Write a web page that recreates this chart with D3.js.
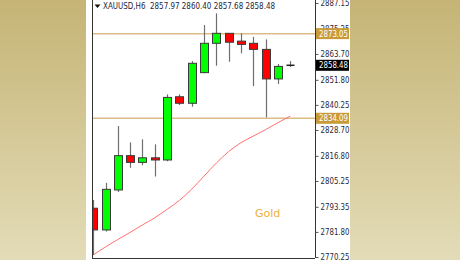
<!DOCTYPE html>
<html>
<head>
<meta charset="utf-8">
<script src="https://cdn.jsdelivr.net/npm/d3@7"></script>
<style>
  html, body { margin: 0; padding: 0; }
  body { width: 460px; height: 260px; overflow: hidden; }
</style>
</head>
<body>
<div id="chart"></div>
<script>
// XAUUSD H6 candles (open, high, low, close)
const opens  = [2792.7, 2782.7, 2801.1, 2816.9, 2813.8, 2815.9, 2814.9, 2844.0, 2841.0, 2855.1, 2868.6, 2873.2, 2869.6, 2868.6, 2865.8, 2852.2, 2857.97];
const highs  = [2796.5, 2804.4, 2830.5, 2823.0, 2824.4, 2822.1, 2845.1, 2845.1, 2860.4, 2877.0, 2882.4, 2873.3, 2873.2, 2871.6, 2870.4, 2859.1, 2860.40];
const lows   = [2771.2, 2782.0, 2800.2, 2811.3, 2812.5, 2807.3, 2814.3, 2840.2, 2839.4, 2854.8, 2858.3, 2860.1, 2864.0, 2848.9, 2834.5, 2849.9, 2857.68];
const closes = [2782.7, 2801.4, 2816.9, 2813.8, 2815.9, 2814.9, 2843.7, 2841.0, 2859.4, 2868.6, 2873.2, 2869.1, 2868.1, 2865.8, 2852.2, 2857.97, 2858.48];
// moving average (red line)
const maValues = [2771.2, 2774.9, 2778.3, 2781.6, 2785.0, 2788.3, 2792.2, 2796.3, 2801.5, 2807.5, 2813.5, 2818.8, 2822.9, 2825.9, 2828.9, 2832.1, 2835.1];
// price axis
const tickValues = [2887.15, 2875.25, 2863.70, 2851.80, 2840.25, 2828.70, 2816.80, 2805.25, 2793.35, 2781.80, 2770.25];
const levels = [2873.05, 2834.09];
const lastPrice = 2858.48;
const title = 'XAUUSD,H6  2857.97 2860.40 2857.68 2858.48';

const W = 460, H = 260;
const plot = { left: 92, right: 315, top: 0, bottom: 258 };

const svg = d3.select('#chart').append('svg')
  .attr('width', W)
  .attr('height', H)
  .style('font-family', 'Tahoma, "DejaVu Sans", sans-serif');

// background gradient
const grad = svg.append('defs').append('linearGradient')
  .attr('id', 'bg').attr('x1', 0).attr('y1', 0).attr('x2', 0).attr('y2', 1);
grad.append('stop').attr('offset', '0%').attr('stop-color', '#c5b475');
grad.append('stop').attr('offset', '100%').attr('stop-color', '#e3dcb8');
svg.append('rect').attr('width', W).attr('height', H).attr('fill', 'url(#bg)');

// white panel
svg.append('rect').attr('x', 86).attr('y', 0).attr('width', 264).attr('height', H).attr('fill', '#ffffff');

const idx = d3.range(opens.length);
const x = d3.scaleLinear().domain([0, opens.length - 1]).range([93.2, 290.3]);
const y = d3.scaleLinear().domain([2770.25, 2887.15]).range([257, 3]);

const g = svg.append('g');

// horizontal levels
g.selectAll('line.level')
  .data(levels)
  .enter()
  .append('line')
  .attr('class', 'level')
  .attr('x1', plot.left).attr('x2', plot.right)
  .attr('y1', d => y(d)).attr('y2', d => y(d))
  .attr('stroke', '#d9bd85')
  .attr('stroke-width', 1.5);

// moving average
g.append('path')
  .datum(idx)
  .attr('fill', 'none')
  .attr('stroke', '#ff7070')
  .attr('stroke-width', 1)
  .attr('d', d3.line().x(i => x(i)).y(i => y(maValues[i])).curve(d3.curveMonotoneX));

// wicks
g.selectAll('line.wick')
  .data(idx)
  .enter()
  .append('line')
  .attr('class', 'wick')
  .attr('x1', i => Math.round(x(i)) + 0.5)
  .attr('x2', i => Math.round(x(i)) + 0.5)
  .attr('y1', i => y(highs[i]))
  .attr('y2', i => y(lows[i]))
  .attr('stroke', '#6e6e6e')
  .attr('stroke-width', 1.2);

// bodies
const bw = 8;
g.selectAll('rect.body')
  .data(idx.filter(i => i < opens.length - 1))
  .enter()
  .append('rect')
  .attr('class', 'body')
  .attr('x', i => Math.round(x(i)) - bw / 2 + 0.5)
  .attr('y', i => y(Math.max(opens[i], closes[i])))
  .attr('width', bw)
  .attr('height', i => Math.max(1, Math.abs(y(opens[i]) - y(closes[i]))))
  .attr('fill', i => closes[i] >= opens[i] ? '#00ff00' : '#ff0000')
  .attr('stroke', '#3a3a3a')
  .attr('stroke-width', 1);

// last bar is a doji-like cross
const li = opens.length - 1;
g.append('line')
  .attr('x1', Math.round(x(li)) - bw / 2 + 0.5).attr('x2', Math.round(x(li)) + bw / 2 + 0.5)
  .attr('y1', y(closes[li])).attr('y2', y(closes[li]))
  .attr('stroke', '#222').attr('stroke-width', 1.5);

// clip left of plot (first candle partly hidden)
svg.append('rect').attr('x', 86).attr('y', 0).attr('width', 6).attr('height', H).attr('fill', '#ffffff');

// frame
svg.append('line').attr('x1', plot.left + 0.5).attr('x2', plot.left + 0.5).attr('y1', 0).attr('y2', plot.bottom)
  .attr('stroke', '#333').attr('stroke-width', 1);
svg.append('line').attr('x1', plot.left).attr('x2', plot.right).attr('y1', plot.bottom + 0.5).attr('y2', plot.bottom + 0.5)
  .attr('stroke', '#333').attr('stroke-width', 1);

// right axis
const axis = d3.axisRight(y)
  .tickValues(tickValues)
  .tickFormat(d3.format('.2f'))
  .tickSize(3)
  .tickPadding(2);
const ax = svg.append('g')
  .attr('transform', `translate(${plot.right + 0.5},0)`)
  .call(axis);
ax.select('.domain').attr('stroke', '#333').attr('d', `M0,0V${plot.bottom}`);
ax.selectAll('.tick line').attr('stroke', '#555');
ax.selectAll('.tick text')
  .attr('fill', '#2a2a3a')
  .attr('font-size', 8.5)
  .attr('font-family', '"DejaVu Sans", sans-serif')
  .attr('textLength', 29)
  .attr('lengthAdjust', 'spacingAndGlyphs');

// price labels on the axis
const tags = [
  { v: levels[0], bg: '#c99a3a' },
  { v: levels[1], bg: '#c99a3a' },
  { v: lastPrice, bg: '#000000' }
];
const tag = svg.append('g').selectAll('g')
  .data(tags)
  .enter()
  .append('g')
  .attr('transform', d => `translate(${plot.right + 1},${y(d.v)})`);
tag.append('rect')
  .attr('x', 0).attr('y', -5.5)
  .attr('width', 33).attr('height', 11)
  .attr('fill', d => d.bg);
tag.append('text')
  .attr('x', 3).attr('y', 3)
  .attr('fill', '#ffffff')
  .attr('font-size', 8.5)
  .attr('font-family', '"DejaVu Sans", sans-serif')
  .attr('textLength', 29)
  .attr('lengthAdjust', 'spacingAndGlyphs')
  .text(d => d3.format('.2f')(d.v));

// title
svg.append('path')
  .attr('d', 'M94.5,4.5 L100.5,4.5 L97.5,8 Z')
  .attr('fill', '#111');
svg.append('text')
  .attr('x', 103).attr('y', 9)
  .attr('fill', '#1e1e3c')
  .attr('font-size', 8)
  .attr('font-family', '"DejaVu Sans", sans-serif')
  .attr('textLength', 172)
  .attr('lengthAdjust', 'spacingAndGlyphs')
  .style('white-space', 'pre')
  .text(title);

// watermark label
svg.append('text')
  .attr('x', 255).attr('y', 217)
  .attr('fill', '#f0b040')
  .attr('font-size', 11)
  .attr('font-family', '"DejaVu Sans", sans-serif')
  .text('Gold');
</script>
</body>
</html>
